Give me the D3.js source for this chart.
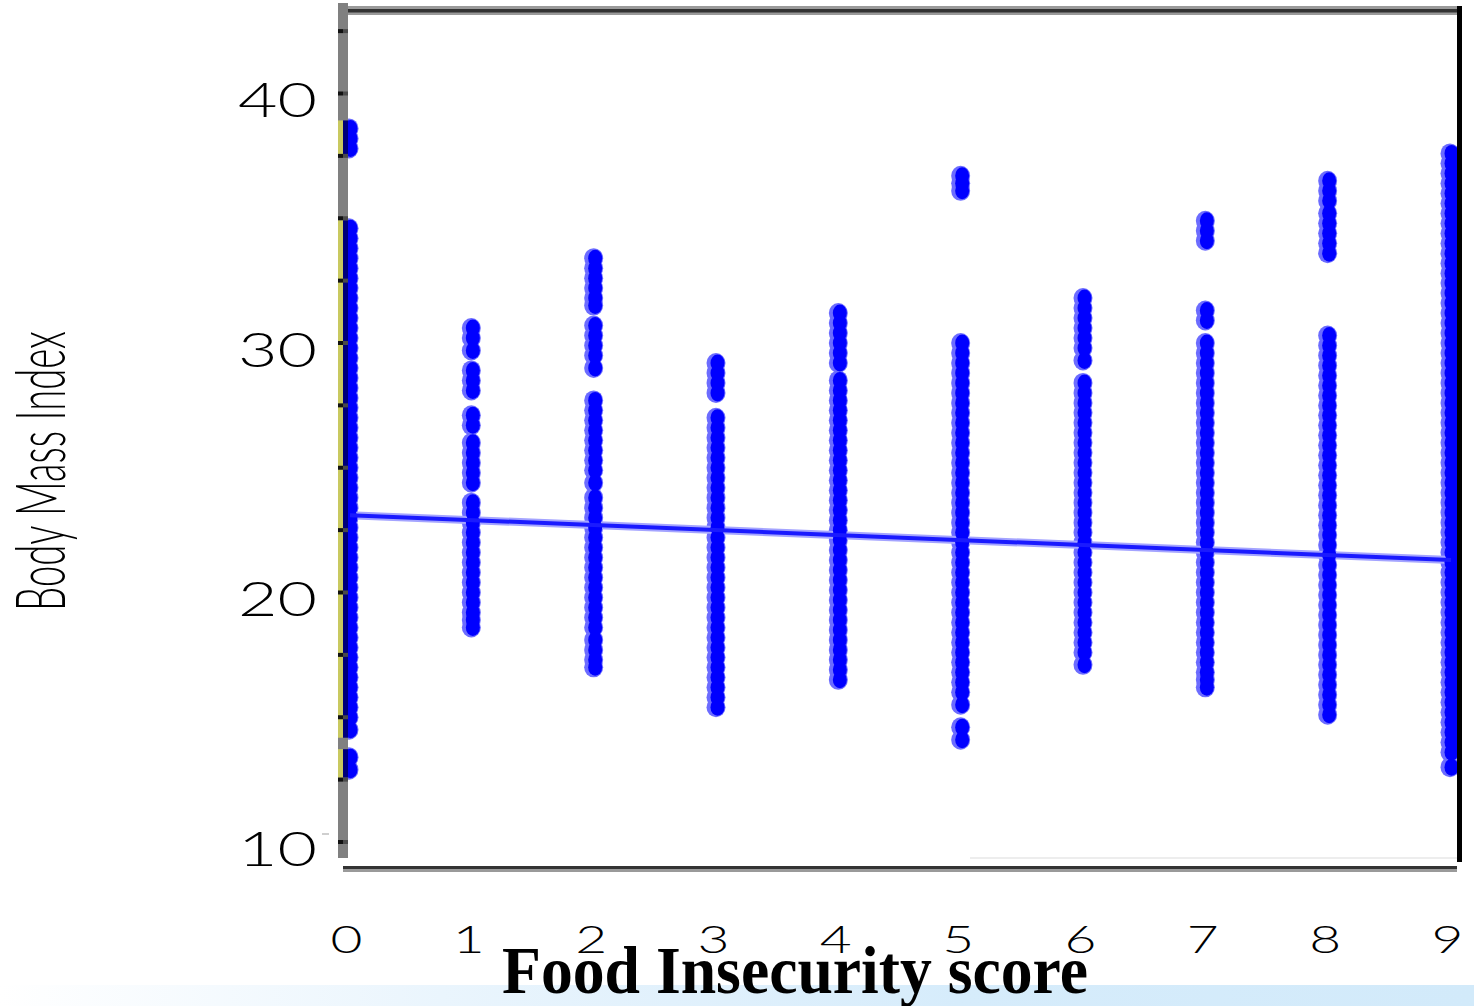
<!DOCTYPE html>
<html>
<head>
<meta charset="utf-8">
<script src="https://cdn.jsdelivr.net/npm/d3@7"></script>
<style>
  html, body { margin: 0; padding: 0; background: #ffffff; }
  svg { display: block; }
</style>
</head>
<body>
<svg id="chart" width="1474" height="1006"></svg>
<script>
// Food insecurity score (0-9) against Body Mass Index, one strip of subjects per score
const scores = [0, 1, 2, 3, 4, 5, 6, 7, 8, 9];

const bmi0 = [38.6, 38.2, 37.8,
  34.6, 34.2, 33.8, 33.4, 33.0, 32.6, 32.2, 31.8, 31.4, 31.0, 30.6, 30.2, 29.8, 29.4, 29.0,
  28.6, 28.2, 27.8, 27.4, 27.0, 26.6, 26.2, 25.8, 25.4, 25.0, 24.6, 24.2, 23.8, 23.4, 23.0,
  22.6, 22.2, 21.8, 21.4, 21.0, 20.6, 20.2, 19.8, 19.4, 19.0, 18.6, 18.2, 17.8, 17.4, 17.0,
  16.6, 16.2, 15.8, 15.4, 15.0, 14.5,
  13.4, 12.9];
const bmi1 = [30.6, 30.2, 29.7,
  28.9, 28.5, 28.1,
  27.1, 26.7,
  26.0, 25.6, 25.2, 24.8, 24.4,
  23.6, 23.2, 22.8, 22.4, 22.0, 21.6, 21.2, 20.8, 20.4, 20.0, 19.6, 19.2, 18.9, 18.6];
const bmi2 = [33.4, 33.0, 32.6, 32.2, 31.8, 31.5,
  30.7, 30.3, 29.9, 29.5, 29.0,
  27.7, 27.3, 26.9, 26.5, 26.1, 25.7, 25.3, 24.9, 24.4,
  23.8, 23.4, 23.0, 22.6, 22.2, 21.8, 21.4, 21.0, 20.6, 20.2, 19.8, 19.4, 19.0, 18.6,
  18.1, 17.7, 17.3, 17.0];
const bmi3 = [29.2, 28.8, 28.4, 28.0,
  27.0, 26.6, 26.2, 25.8, 25.4, 25.0, 24.6, 24.2, 23.8, 23.4, 23.0, 22.6, 22.2, 21.8, 21.4,
  21.0, 20.6, 20.2, 19.8, 19.4, 19.0, 18.6, 18.2, 17.8, 17.4, 17.0, 16.6, 16.2, 15.8, 15.4];
const bmi4 = [31.2, 30.8, 30.4, 30.0, 29.6, 29.2,
  28.5, 28.1, 27.7, 27.3, 26.9, 26.5, 26.1, 25.7, 25.3, 24.9, 24.5, 24.1, 23.7, 23.3, 22.9,
  22.5, 22.1, 21.7, 21.3, 20.9, 20.5, 20.1, 19.7, 19.3, 18.9, 18.5, 18.1, 17.7, 17.3, 16.9, 16.5];
const bmi5 = [36.7, 36.4, 36.1,
  30.0, 29.6, 29.2, 28.8, 28.4, 28.0, 27.6, 27.2, 26.8, 26.4, 26.0, 25.6, 25.2, 24.8, 24.4,
  24.0, 23.6, 23.2, 22.8, 22.4, 22.0, 21.6, 21.2, 20.8, 20.4, 20.0, 19.6, 19.2, 18.8, 18.4,
  18.0, 17.6, 17.2, 16.8, 16.4, 16.0, 15.5,
  14.6, 14.1];
const bmi6 = [31.8, 31.4, 31.0, 30.6, 30.2, 29.8, 29.3,
  28.4, 28.0, 27.6, 27.2, 26.8, 26.4, 26.0, 25.6, 25.2, 24.8, 24.4, 24.0, 23.6, 23.2, 22.8,
  22.4, 22.0, 21.6, 21.2, 20.8, 20.4, 20.0, 19.6, 19.2, 18.8, 18.4, 18.0, 17.6, 17.1];
const bmi7 = [34.9, 34.5, 34.1,
  31.3, 30.9,
  30.0, 29.6, 29.2, 28.8, 28.4, 28.0, 27.6, 27.2, 26.8, 26.4, 26.0, 25.6, 25.2, 24.8, 24.4,
  24.0, 23.6, 23.2, 22.8, 22.4, 22.0, 21.6, 21.2, 20.8, 20.4, 20.0, 19.6, 19.2, 18.8, 18.4,
  18.0, 17.6, 17.2, 16.8, 16.5, 16.2];
const bmi8 = [36.5, 36.1, 35.7, 35.2, 34.8, 34.4, 34.0, 33.6,
  30.3, 29.9, 29.5, 29.1, 28.7, 28.3, 27.9, 27.5, 27.1, 26.7, 26.3, 25.9, 25.5, 25.1, 24.7,
  24.3, 23.9, 23.5, 23.1, 22.7, 22.3, 21.9, 21.5, 21.1, 20.7, 20.3, 19.9, 19.5, 19.1, 18.7,
  18.3, 17.9, 17.5, 17.1, 16.7, 16.3, 15.9, 15.5, 15.1];
const bmi9 = [37.6, 37.2, 36.8, 36.4, 36.0, 35.6, 35.2, 34.8, 34.4, 34.0, 33.6, 33.2, 32.8,
  32.4, 32.0, 31.6, 31.2, 30.8, 30.4, 30.0, 29.6, 29.2, 28.8, 28.4, 28.0, 27.6, 27.2, 26.8,
  26.4, 26.0, 25.6, 25.2, 24.8, 24.4, 24.0, 23.6, 23.2, 22.8, 22.4, 22.0, 21.6, 21.2, 20.8,
  20.4, 20.0, 19.6, 19.2, 18.8, 18.4, 18.0, 17.6, 17.2, 16.8, 16.4, 16.0, 15.6, 15.2, 14.8,
  14.4, 14.0, 13.6, 13.0];

// fitted regression line, end points
const fitScores = [0, 9];
const fitBmi = [23.1, 21.3];

const xTickLabels = ["0", "1", "2", "3", "4", "5", "6", "7", "8", "9"];
const yTicks = [10, 20, 30, 40];
const minorTicks = [10, 12.5, 15, 17.5, 20, 22.5, 25, 27.5, 30, 32.5, 35, 37.5, 40, 42.5];

const xTitle = "Food Insecurity score";
const yTitle = "Body Mass Index";

// ---------------------------------------------------------------
const W = 1474, H = 1006;
const frame = { left: 338, axisW: 10, top: 6, right: 1462, bottom: 872 };

const x = d3.scaleLinear().domain([0, 9]).range([350, 1451]);
const y = d3.scaleLinear().domain([10, 40]).range([842, 93.5]);

const svg = d3.select("#chart");

// pale blue band along the bottom edge
const defs = svg.append("defs");
const grad = defs.append("linearGradient").attr("id", "band")
  .attr("x1", "0").attr("x2", "1").attr("y1", "0").attr("y2", "0");
grad.append("stop").attr("offset", "0").attr("stop-color", "#ffffff");
grad.append("stop").attr("offset", "0.3").attr("stop-color", "#eaf5fd");
grad.append("stop").attr("offset", "0.65").attr("stop-color", "#d6ecfb");
grad.append("stop").attr("offset", "1").attr("stop-color", "#d2eafa");
svg.append("rect").attr("x", 0).attr("y", 985).attr("width", W).attr("height", H - 985)
  .attr("fill", "url(#band)");

// plot frame: top, bottom, right
svg.append("rect").attr("x", frame.left + 5).attr("y", frame.top)
  .attr("width", frame.right - frame.left - 5).attr("height", 9).attr("fill", "#9a9a9a");
svg.append("rect").attr("x", frame.left + 5).attr("y", frame.top + 3)
  .attr("width", frame.right - frame.left - 5).attr("height", 3.5).attr("fill", "#333333");
svg.append("rect").attr("x", frame.left + 5).attr("y", frame.bottom - 6)
  .attr("width", 1457 - frame.left - 5).attr("height", 6).attr("fill", "#9a9a9a");
svg.append("rect").attr("x", frame.left + 5).attr("y", frame.bottom - 6)
  .attr("width", 1457 - frame.left - 5).attr("height", 3).attr("fill", "#333333");
svg.append("rect").attr("x", 970).attr("y", 857).attr("width", 487).attr("height", 2)
  .attr("fill", "#ededed");

// scatter points (drawn as slightly tall markers so dense strips read as solid bars)
const series = [bmi0, bmi1, bmi2, bmi3, bmi4, bmi5, bmi6, bmi7, bmi8, bmi9];
const points = scores.flatMap((s, i) => series[i].map(v => ({ s, v })));

const fitData = fitScores.map((s, i) => ({ s, v: fitBmi[i] }));
const fitLine = d3.line().x(d => x(d.s)).y(d => y(d.v));

svg.append("g").selectAll("ellipse").data(points).join("ellipse")
  .attr("cx", d => x(d.s) - 1).attr("cy", d => y(d.v)).attr("rx", 9.5).attr("ry", 10)
  .attr("fill", "#6c6cff");

svg.append("path").datum(fitData).attr("d", fitLine)
  .attr("fill", "none").attr("stroke", "#a4a4ff").attr("stroke-width", 8);

svg.append("g").selectAll("ellipse").data(points).join("ellipse")
  .attr("cx", d => x(d.s) + 0.5).attr("cy", d => y(d.v)).attr("rx", 7).attr("ry", 8.5)
  .attr("fill", "#0000ff");

svg.append("path").datum(fitData).attr("d", fitLine)
  .attr("fill", "none").attr("stroke", "#1a1aff").attr("stroke-width", 4);

// left axis bar
svg.append("rect").attr("x", frame.left).attr("y", 3)
  .attr("width", frame.axisW).attr("height", 855).attr("fill", "#808080");

// where score-0 points sit on the axis bar
const onAxis = points.filter(d => d.s === 0);
svg.append("g").selectAll("rect").data(onAxis).join("rect")
  .attr("x", frame.left).attr("y", d => y(d.v) - 8)
  .attr("width", 5).attr("height", 16).attr("fill", "#c9c960");
svg.append("g").selectAll("rect").data(onAxis).join("rect")
  .attr("x", frame.left + 5).attr("y", d => y(d.v) - 8)
  .attr("width", 5).attr("height", 16).attr("fill", "#00007a");

// minor tick marks inside the axis bar
svg.append("g").selectAll("rect").data(minorTicks).join("rect")
  .attr("x", frame.left).attr("y", d => y(d) - 2)
  .attr("width", 5).attr("height", 4).attr("fill", "#111111");
svg.append("g").selectAll("rect").data(minorTicks).join("rect")
  .attr("x", frame.left + 5).attr("y", d => y(d) - 2)
  .attr("width", 5).attr("height", 4).attr("fill", "#4a4a4a");

// right border
svg.append("rect").attr("x", 1457).attr("y", frame.top)
  .attr("width", 5).attr("height", 856).attr("fill", "#000000");

// y axis labels
const yAxis = svg.append("g").attr("transform", "translate(317,0)")
  .call(d3.axisLeft(y).tickValues(yTicks).tickSize(0).tickPadding(0).tickFormat(d3.format("d")));
yAxis.select(".domain").remove();
yAxis.selectAll(".tick text")
  .attr("x", null).attr("dy", null)
  .attr("text-anchor", "end")
  .attr("transform", "translate(0,23) scale(1.45,1)")
  .style("font-family", "Lato, 'DejaVu Sans', sans-serif")
  .style("font-weight", "300")
  .style("font-size", "47px")
  .attr("fill", "#000");
// short outer tick at the lowest label
svg.append("rect").attr("x", 322).attr("y", y(yTicks[0]) - 9)
  .attr("width", 7).attr("height", 2).attr("fill", "#cfcfcf");

// x axis labels
const xAxis = svg.append("g").attr("transform", "translate(-4,953)")
  .call(d3.axisBottom(x).tickValues(scores).tickSize(0).tickPadding(0)
    .tickFormat((d, i) => xTickLabels[i]));
xAxis.select(".domain").remove();
xAxis.selectAll(".tick text")
  .attr("y", null).attr("dy", null)
  .attr("text-anchor", "middle")
  .attr("transform", "scale(1.45,1)")
  .style("font-family", "Lato, 'DejaVu Sans', sans-serif")
  .style("font-weight", "300")
  .style("font-size", "38px")
  .attr("fill", "#000");

// axis titles
svg.append("text")
  .attr("transform", "translate(65,471) rotate(-90)")
  .attr("text-anchor", "middle")
  .attr("textLength", 280).attr("lengthAdjust", "spacingAndGlyphs")
  .style("font-family", "Lato, 'DejaVu Sans', sans-serif")
  .style("font-weight", "300")
  .style("font-size", "68px")
  .attr("fill", "#000")
  .text(yTitle);

svg.append("text")
  .attr("x", 795).attr("y", 993)
  .attr("text-anchor", "middle")
  .attr("textLength", 586).attr("lengthAdjust", "spacingAndGlyphs")
  .style("font-family", "'Liberation Serif', 'Times New Roman', serif")
  .style("font-weight", "bold")
  .style("font-size", "68px")
  .attr("fill", "#000")
  .text(xTitle);
</script>
</body>
</html>
